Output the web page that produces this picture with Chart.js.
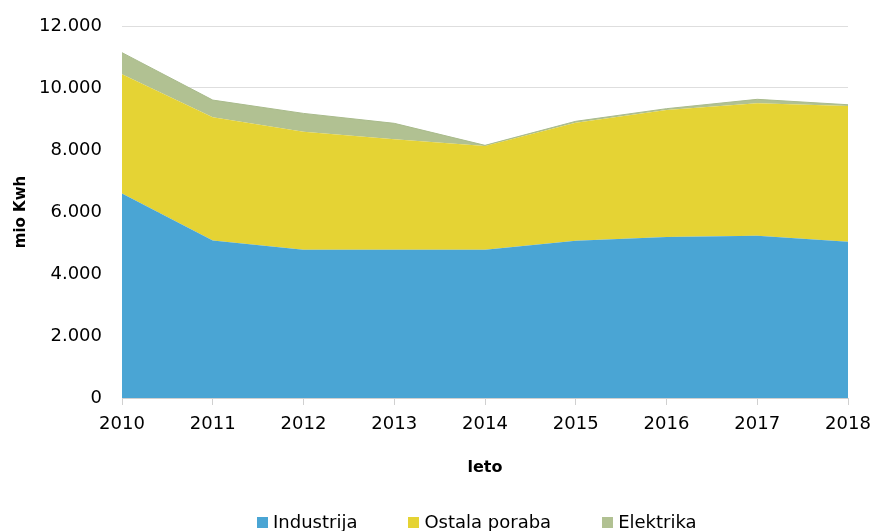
<!DOCTYPE html>
<html>
<head>
<meta charset="utf-8">
<script src="https://cdn.jsdelivr.net/npm/chart.js@4/dist/chart.umd.min.js"></script>
<style>
  html, body { margin: 0; padding: 0; background: #fff; }
  #wrap { position: relative; width: 870px; height: 531px; }
  #legend {
    position: absolute; left: 257px; top: 511px;
    display: flex; align-items: center; gap: 51px;
    font-family: 'DejaVu Sans', sans-serif; font-size: 18px; line-height: 22px; color: #000;
  }
  #legend .item { display: flex; align-items: center; gap: 5px; white-space: nowrap; }
  #legend .box { width: 11px; height: 11px; display: inline-block; }
</style>
</head>
<body>
<div id="wrap">
  <canvas id="energyChart"></canvas>
  <div id="legend"></div>
</div>
<script>
const years = ["2010", "2011", "2012", "2013", "2014", "2015", "2016", "2017", "2018"];
const industrija = [6600, 5080, 4780, 4780, 4780, 5070, 5190, 5230, 5040];
const ostalaPoraba = [3840, 3980, 3810, 3570, 3350, 3810, 4100, 4280, 4380];
const elektrika = [700, 550, 590, 510, 20, 45, 43, 125, 40];

const fontFamily = "'DejaVu Sans', sans-serif";

function formatThousands(value) {
    return String(value).replace(/\B(?=(\d{3})+(?!\d))/g, ".");
}

// simple html legend, built from the chart's own datasets
function buildLegend(chart) {
    const legendEl = document.getElementById("legend");
    legendEl.innerHTML = "";
    chart.data.datasets.forEach(function (ds) {
        const item = document.createElement("span");
        item.className = "item";
        const box = document.createElement("span");
        box.className = "box";
        box.style.background = ds.backgroundColor;
        const text = document.createElement("span");
        text.textContent = ds.label;
        item.appendChild(box);
        item.appendChild(text);
        legendEl.appendChild(item);
    });
}

document.addEventListener("DOMContentLoaded", function () {
    const ctx = document.getElementById("energyChart");

    const chart = new Chart(ctx, {
        type: "line",
        data: {
            labels: years,
            datasets: [{
                label: "Industrija",
                data: industrija,
                backgroundColor: "#4aa5d4",
                borderColor: "#4aa5d4",
                borderWidth: 0,
                fill: "origin",
                pointRadius: 0
            }, {
                label: "Ostala poraba",
                data: ostalaPoraba,
                backgroundColor: "#e5d334",
                borderColor: "#e5d334",
                borderWidth: 0,
                fill: "-1",
                pointRadius: 0
            }, {
                label: "Elektrika",
                data: elektrika,
                backgroundColor: "#b1c192",
                borderColor: "#a9bb8c",
                borderWidth: 1,
                fill: "-1",
                pointRadius: 0
            }]
        },
        options: {
            responsive: true,
            maintainAspectRatio: false,
            animation: false,
            layout: { padding: { left: 6, right: 22, top: 26, bottom: 54 } },
            plugins: {
                tooltip: { enabled: false },
                legend: { display: false }
            },
            scales: {
                x: {
                    offset: false,
                    grid: {
                        display: true,
                        drawOnChartArea: false,
                        drawTicks: true,
                        tickLength: 7,
                        color: "#d0d0d0"
                    },
                    border: { display: true, color: "#d0d0d0" },
                    ticks: {
                        color: "#000",
                        font: { family: fontFamily, size: 18 },
                        maxRotation: 0,
                        autoSkip: false,
                        padding: 9
                    },
                    title: {
                        display: true,
                        text: "leto",
                        color: "#000",
                        font: { family: fontFamily, size: 16, weight: "bold" },
                        padding: { top: 0, bottom: 0 }
                    },
                    afterFit: function (scale) {
                        scale.height = 79;
                        scale.paddingLeft = 0;
                        scale.paddingRight = 0;
                    }
                },
                y: {
                    stacked: true,
                    min: 0,
                    max: 12000,
                    z: 1,
                    grid: {
                        color: "rgba(0, 0, 0, 0.13)",
                        drawTicks: false,
                        lineWidth: 1
                    },
                    border: { display: false },
                    ticks: {
                        stepSize: 2000,
                        color: "#000",
                        padding: 20,
                        font: { family: fontFamily, size: 18 },
                        callback: function (value) { return formatThousands(value); }
                    },
                    title: {
                        display: true,
                        text: "mio Kwh",
                        color: "#000",
                        font: { family: fontFamily, size: 15, weight: "bold" },
                        padding: { top: 6, bottom: 0 }
                    },
                    afterFit: function (scale) {
                        scale.width = 116;
                        scale.paddingTop = 0;
                        scale.paddingBottom = 0;
                    }
                }
            }
        }
    });

    buildLegend(chart);
});
</script>
</body>
</html>
